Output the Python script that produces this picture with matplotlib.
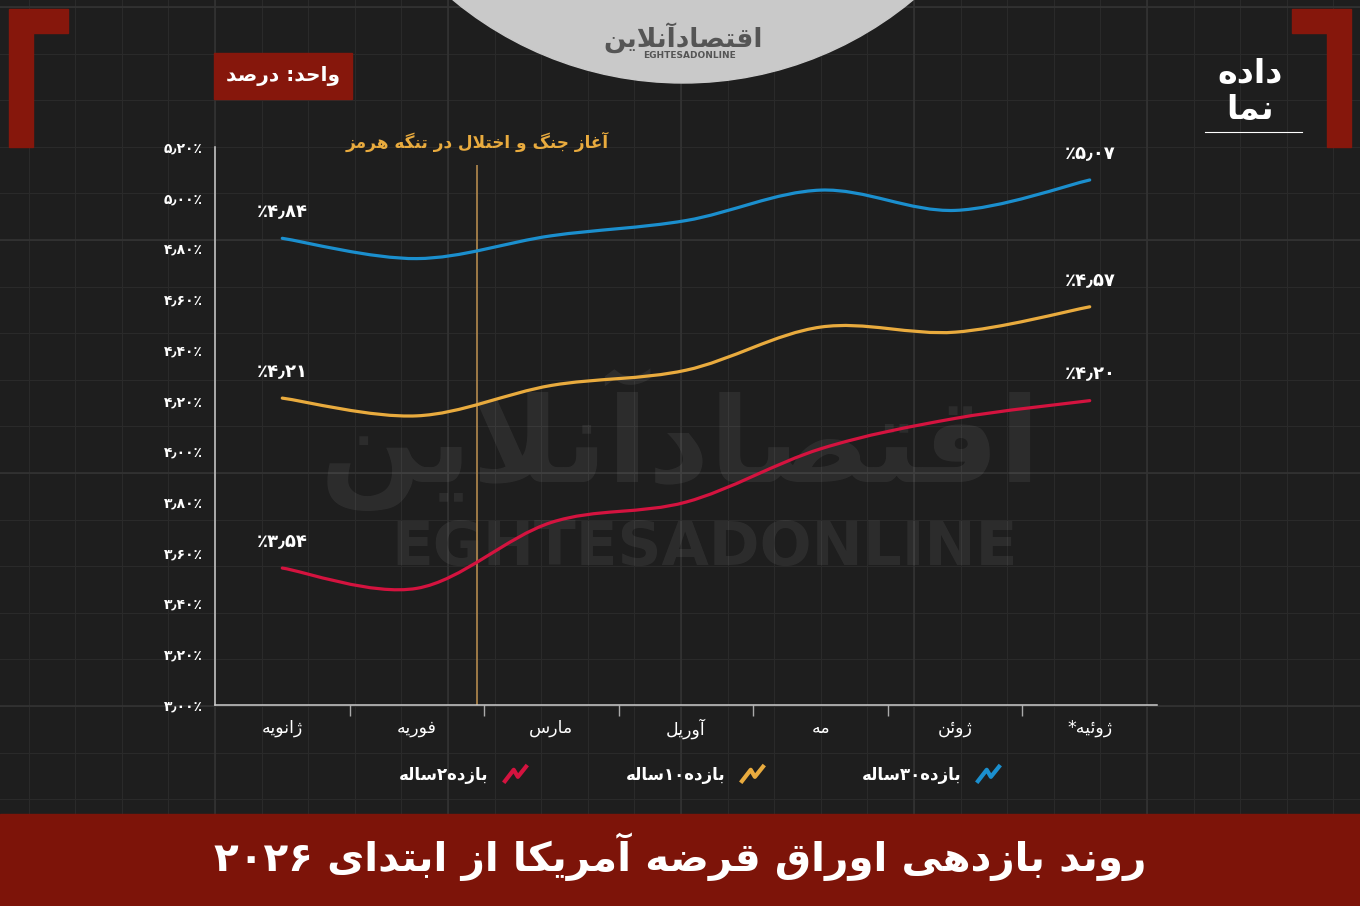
import matplotlib as mpl
mpl.use("Agg")
import matplotlib.pyplot as plt
import numpy as np
from matplotlib.path import Path
from matplotlib.patches import PathPatch, Polygon, Rectangle, Circle
from matplotlib.lines import Line2D

# ---- data ----
months = ["ژانویه", "فوریه", "مارس", "آوریل", "مه", "ژوئن", "ژوئیه*"]
yield_30 = [4.84, 4.76, 4.85, 4.91, 5.03, 4.95, 5.07]
yield_10 = [4.21, 4.14, 4.26, 4.32, 4.49, 4.47, 4.57]
yield_2 = [3.54, 3.46, 3.72, 3.80, 4.01, 4.13, 4.20]
series_names = ["بازده۲ساله", "بازده۱۰ساله", "بازده۳۰ساله"]
yticks = [3.0, 3.2, 3.4, 3.6, 3.8, 4.0, 4.2, 4.4, 4.6, 4.8, 5.0, 5.2]
event_x = 1.45
event_label = "آغاز جنگ و اختلال در تنگه هرمز"
title = "روند بازدهی اوراق قرضه آمریکا از ابتدای ۲۰۲۶"
unit = "واحد: درصد"

BG = "#1e1e1e"
RED = "#86170c"
C2, C10, C30 = "#d4133f", "#e9ab3e", "#1b8fce"
FONT = "DejaVu Sans"

# ---- minimal persian shaping (matplotlib has no bidi / shaping) ----
FORMS = {
    "ا": "\uFE8D\uFE8E", "آ": "\uFE81\uFE82", "د": "\uFEA9\uFEAA", "ذ": "\uFEAB\uFEAC",
    "ر": "\uFEAD\uFEAE", "ز": "\uFEAF\uFEB0", "ژ": "\uFB8A\uFB8B", "و": "\uFEED\uFEEE",
    "ب": "\uFE8F\uFE90\uFE91\uFE92", "پ": "\uFB56\uFB57\uFB58\uFB59", "ت": "\uFE95\uFE96\uFE97\uFE98",
    "ث": "\uFE99\uFE9A\uFE9B\uFE9C", "ج": "\uFE9D\uFE9E\uFE9F\uFEA0", "چ": "\uFB7A\uFB7B\uFB7C\uFB7D",
    "ح": "\uFEA1\uFEA2\uFEA3\uFEA4", "خ": "\uFEA5\uFEA6\uFEA7\uFEA8", "س": "\uFEB1\uFEB2\uFEB3\uFEB4",
    "ش": "\uFEB5\uFEB6\uFEB7\uFEB8", "ص": "\uFEB9\uFEBA\uFEBB\uFEBC", "ض": "\uFEBD\uFEBE\uFEBF\uFEC0",
    "ط": "\uFEC1\uFEC2\uFEC3\uFEC4", "ظ": "\uFEC5\uFEC6\uFEC7\uFEC8", "ع": "\uFEC9\uFECA\uFECB\uFECC",
    "غ": "\uFECD\uFECE\uFECF\uFED0", "ف": "\uFED1\uFED2\uFED3\uFED4", "ق": "\uFED5\uFED6\uFED7\uFED8",
    "ک": "\uFB8E\uFB8F\uFB90\uFB91", "گ": "\uFB92\uFB93\uFB94\uFB95", "ل": "\uFEDD\uFEDE\uFEDF\uFEE0",
    "م": "\uFEE1\uFEE2\uFEE3\uFEE4", "ن": "\uFEE5\uFEE6\uFEE7\uFEE8", "ه": "\uFEE9\uFEEA\uFEEB\uFEEC",
    "ی": "\uFBFC\uFBFD\uFBFE\uFBFF", "ئ": "\uFE89\uFE8A\uFE8B\uFE8C",
}
LAM_ALEF = {"ا": "\uFEFB\uFEFC", "آ": "\uFEF5\uFEF6"}


def shape(s):
    out = []
    i = 0
    while i < len(s):
        c = s[i]
        if c not in FORMS:
            out.append(c)
            i += 1
            continue
        prev = s[i - 1] if i > 0 else ""
        pj = prev in FORMS and len(FORMS[prev]) == 4
        nxt = s[i + 1] if i + 1 < len(s) else ""
        if c == "ل" and nxt in LAM_ALEF:
            out.append(LAM_ALEF[nxt][1 if pj else 0])
            i += 2
            continue
        f = FORMS[c]
        nj = nxt in FORMS and len(f) == 4
        if pj and nj:
            out.append(f[3])
        elif pj:
            out.append(f[1])
        elif nj:
            out.append(f[2])
        else:
            out.append(f[0])
        i += 1
    return "".join(out)


def is_ltr(ch):
    return ch.isdigit() or ch.isascii() and ch.isalpha() or ch in "٫٪.,%"


def fa(s):
    s = shape(s)
    runs = []
    for ch in s:
        l = is_ltr(ch)
        if runs and runs[-1][1] == l:
            runs[-1][0] += ch
        else:
            runs.append([ch, l])
    return "".join(r if l else r[::-1] for r, l in reversed(runs))


def fa_num(v):
    return f"{v:.2f}".translate(str.maketrans("0123456789.", "۰۱۲۳۴۵۶۷۸۹٫"))


def smooth(x, y, t=1 / 6):
    p = np.column_stack([x, y]).astype(float)
    verts, codes = [p[0]], [Path.MOVETO]
    n = len(p)
    for i in range(n - 1):
        p0, p1, p2, p3 = p[max(i - 1, 0)], p[i], p[i + 1], p[min(i + 2, n - 1)]
        verts += [p1 + (p2 - p0) * t, p2 - (p3 - p1) * t, p2]
        codes += [Path.CURVE4] * 3
    return Path(verts, codes)


def fit_width(txt, width_px):
    # shrink/grow a text so that its rendered width matches width_px
    r = fig.canvas.get_renderer()
    w = txt.get_window_extent(renderer=r).width
    txt.set_fontsize(txt.get_fontsize() * width_px / w)


fig = plt.figure(figsize=(13.6, 9.06), dpi=100, facecolor=BG)

# ---- decorative layer in pixel coordinates ----
bg = fig.add_axes([0, 0, 1, 1], zorder=0)
bg.set_xlim(0, 1360)
bg.set_ylim(906, 0)
bg.axis("off")
bg.set_facecolor(BG)
for gx in np.arange(215 - 233 * 1, 1400, 46.6):
    bg.axvline(gx, color="#2a2a2a", lw=0.8, zorder=0)
for gy in np.arange(240 - 233 * 2, 950, 46.6):
    bg.axhline(gy, color="#2a2a2a", lw=0.8, zorder=0)
for gx in np.arange(215 - 233, 1400, 233):
    bg.axvline(gx, color="#333333", lw=1.2, zorder=0)
for gy in np.arange(240 - 233, 950, 233):
    bg.axhline(gy, color="#333333", lw=1.2, zorder=0)

bg.add_patch(Circle((683, -277), 360, color="#c9c9c9", zorder=1))
bg.text(683, 38, fa("اقتصادآنلاین"), ha="center", va="center", fontsize=19,
        fontweight="bold", color="#555555", family=FONT, zorder=2)
bg.text(690, 56, "EGHTESADONLINE", ha="center", va="center", fontsize=6.5,
        fontweight="bold", color="#555555", family=FONT, zorder=2)

bg.add_patch(Polygon([(9, 9), (68, 9), (68, 33), (33, 33), (33, 147), (9, 147)], color=RED, zorder=1))
bg.add_patch(Polygon([(1351, 9), (1292, 9), (1292, 33), (1327, 33), (1327, 147), (1351, 147)], color=RED, zorder=1))
bg.text(1250, 74, fa("داده"), ha="center", va="center", fontsize=24, fontweight="bold", color="white", family=FONT)
bg.text(1250, 110, fa("نما"), ha="center", va="center", fontsize=24, fontweight="bold", color="white", family=FONT)
bg.plot([1205, 1302], [132, 132], color="white", lw=0.8)

bg.add_patch(Rectangle((214, 53), 138, 46, color=RED, zorder=1))
bg.text(283, 76, fa(unit), ha="center", va="center", fontsize=14.5, fontweight="bold",
        color="white", family=FONT, zorder=2)

bg.add_patch(Rectangle((0, 814), 1360, 92, color="#7d1409", zorder=1))
title_txt = bg.text(680, 857, fa(title), ha="center", va="center", fontsize=30, fontweight="bold",
                    color="white", family=FONT, zorder=2)
fit_width(title_txt, 930)

wm = bg.text(680, 440, fa("اقتصادآنلاین"), ha="center", va="center", fontsize=100, fontweight="bold",
             color="white", alpha=0.065, family=FONT, zorder=1)
fit_width(wm, 720)
bg.text(705, 548, "EGHTESADONLINE", ha="center", va="center", fontsize=44, fontweight="bold",
        color="white", alpha=0.065, family=FONT, zorder=1)

# ---- chart ----
ax = fig.add_axes([215 / 1360, 1 - 705 / 906, 942 / 1360, 558 / 906], zorder=2)
ax.patch.set_alpha(0)
x = np.arange(len(months))
ax.set_xlim(-0.5, len(months) - 0.5)
ax.set_ylim(3.0, 5.2)

for ys, col in [(yield_30, C30), (yield_10, C10), (yield_2, C2)]:
    ax.add_patch(PathPatch(smooth(x, ys), fill=False, ec=col, lw=2.3, capstyle="round", zorder=3))
    for i in (0, len(ys) - 1):
        ax.annotate("٪" + fa_num(ys[i]), (x[i], ys[i]), xytext=(0, 19), textcoords="offset points",
                    ha="center", va="center", fontsize=13, fontweight="bold", color="white", family=FONT)

ax.vlines(event_x, 3.0, 5.13, color="#b38a4e", lw=1.2, zorder=2)
ev = ax.text(event_x, 5.22, fa(event_label), ha="center", va="center", fontsize=13, fontweight="bold",
             color=C10, family=FONT, clip_on=False)
fit_width(ev, 262)

ax.set_yticks(yticks)
ax.set_yticklabels([fa_num(v) + "٪" for v in yticks], fontsize=10, fontweight="bold", color="white", family=FONT)
ax.set_xticks(x)
ax.set_xticklabels([fa(m) for m in months], fontsize=12.5, color="white", family=FONT)
ax.set_xticks(x[:-1] + 0.5, minor=True)
ax.tick_params(axis="x", which="major", length=0, pad=10)
ax.tick_params(axis="x", which="minor", length=8, width=1, color="#aaaaaa", direction="out")
ax.tick_params(axis="y", length=0, pad=9)
for s in ("top", "right"):
    ax.spines[s].set_visible(False)
for s in ("left", "bottom"):
    ax.spines[s].set_color("#cccccc")
    ax.spines[s].set_linewidth(1.1)

zig = Path([(-1, -0.7), (-0.15, 0.4), (0.2, -0.2), (1, 0.8)],
           [Path.MOVETO, Path.LINETO, Path.LINETO, Path.LINETO])
handles = [Line2D([], [], ls="none", marker=zig, markersize=17, mew=3, mec=c, mfc="none")
           for c in (C2, C10, C30)]
leg = fig.legend(handles, [fa(n) for n in series_names], loc="center", bbox_to_anchor=(702 / 1360, 1 - 775 / 906),
                 ncol=3, markerfirst=False, frameon=False, columnspacing=5.6, handletextpad=0.6,
                 prop=dict(family=FONT, weight="bold", size=12))
for t in leg.get_texts():
    t.set_color("white")

fig.savefig("out.png", dpi=100, facecolor=BG)
